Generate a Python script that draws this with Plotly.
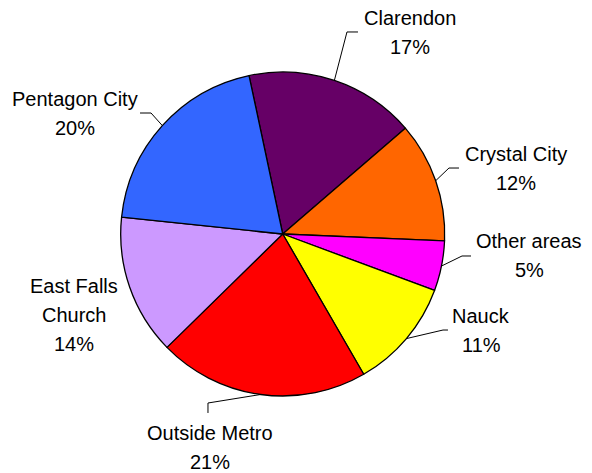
import math
import plotly.graph_objects as go

labels = ['Clarendon', 'Crystal City', 'Other areas', 'Nauck', 'Outside Metro', 'East Falls Church', 'Pentagon City']
values = [17, 12, 5, 11, 21, 14, 20]
colors = ['#660066', '#FF6600', '#FF00FF', '#FFFF00', '#FF0000', '#CC99FF', '#3366FF']
label_text = ['Clarendon', 'Crystal City', 'Other areas', 'Nauck', 'Outside Metro', 'East Falls<br>Church', 'Pentagon City']

W, H = 592, 473
OFF = 8  # page body margin, figure sits 8px in from the window corner
cx, cy, R = 282.7, 234.0, 162.0
rotation = -12

# label block centres (px on screen) and leader line elbow/end points (px on screen)
label_pos = [(409.5, 32.5), (516, 168.5), (529, 255), (481, 330.5), (209.5, 447.5), (74, 314.5), (74.5, 113.5)]
leader_pts = [[(347, 32), (358, 32)], [(449, 168), (459, 168)], [(462, 256), (471, 256)],
              [(443, 330), (448, 330)], [(208, 403), (208, 413)], None, [(151, 113), (140, 113)]]
line_gap = 29


def px(x, y):
    return (x - OFF) / W, 1 - (y - OFF) / H


fig = go.Figure(go.Pie(
    labels=labels, values=values, sort=False, direction='clockwise', rotation=rotation,
    marker=dict(colors=colors, line=dict(color='black', width=1.3)),
    textinfo='none', hoverinfo='label+percent',
    domain=dict(x=[px(cx - R, 0)[0], px(cx + R, 0)[0]], y=[px(0, cy + R)[1], px(0, cy - R)[1]]),
))

total = sum(values)
acc = 0
shapes = []
annotations = []
for i, v in enumerate(values):
    mid = math.radians(rotation + (acc + v / 2) / total * 360)
    acc += v
    pct = f'{round(v / total * 100)}%'
    lines = label_text[i].split('<br>') + [pct]
    lx, ly = label_pos[i]
    for j, t in enumerate(lines):
        yy = ly + (j - (len(lines) - 1) / 2) * line_gap
        x, y = px(lx, yy)
        annotations.append(dict(x=x, y=y, xref='paper', yref='paper', text=t, showarrow=False,
                                xanchor='center', yanchor='middle',
                                font=dict(family='Liberation Sans, Arial', size=20, color='black')))
    if leader_pts[i]:
        ax, ay = cx + R * math.sin(mid), cy - R * math.cos(mid)
        pts = [px(ax, ay)] + [px(*p) for p in leader_pts[i]]
        path = 'M ' + ' L '.join(f'{a:.4f},{b:.4f}' for a, b in pts)
        shapes.append(dict(type='path', path=path, xref='paper', yref='paper',
                           line=dict(color='black', width=1)))

fig.update_layout(
    width=W, height=H, margin=dict(l=0, r=0, t=0, b=0),
    showlegend=False, paper_bgcolor='white', plot_bgcolor='white',
    shapes=shapes, annotations=annotations,
)

fig.write_html("out.html")
